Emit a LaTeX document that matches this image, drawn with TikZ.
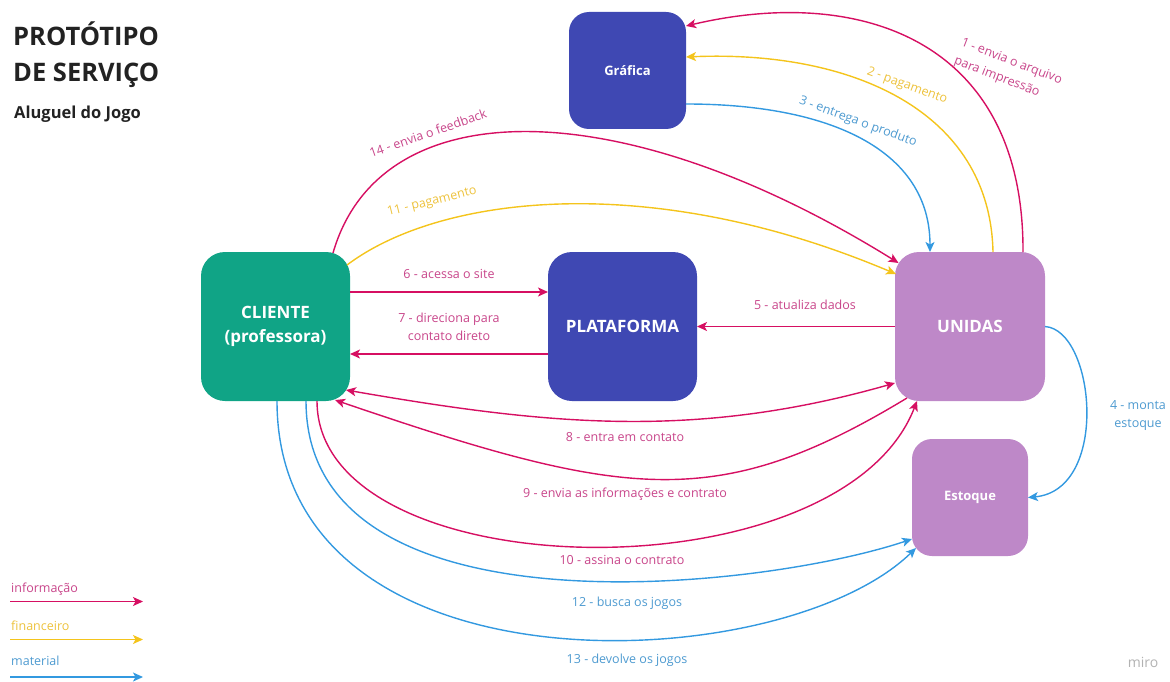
\documentclass[tikz,border=0pt]{standalone}
\usepackage{fontspec}
\setmainfont{Open Sans}
\usetikzlibrary{arrows.meta,calc}

% palette
\definecolor{info}{HTML}{D60F62}
\definecolor{infotxt}{HTML}{C8458A}
\definecolor{fin}{HTML}{F4C41C}
\definecolor{fintxt}{HTML}{EDC23C}
\definecolor{mat}{HTML}{3399E0}
\definecolor{mattxt}{HTML}{4D9AD0}
\definecolor{navy}{HTML}{3F48B3}
\definecolor{clientgreen}{HTML}{10A486}
\definecolor{lilac}{HTML}{BE88C8}
\definecolor{titlegray}{HTML}{222222}

\begin{document}
\begin{tikzpicture}[x=1pt,y=-1pt,
  actor/.style={rounded corners=24pt, inner sep=0pt, outer sep=0pt, text=white,
    align=center, minimum width=149pt, minimum height=149pt,
    font=\bfseries\fontsize{17}{24}\selectfont},
  smallactor/.style={actor, rounded corners=20pt, minimum width=117pt, minimum height=117pt,
    font=\bfseries\fontsize{13}{16}\selectfont},
  flow/.style={line width=1.4pt, -{Stealth[length=10pt,width=9pt,inset=2.5pt]}},
  twoway/.style={line width=1.4pt, {Stealth[length=10pt,width=9pt,inset=2.5pt]}-{Stealth[length=10pt,width=9pt,inset=2.5pt]}},
  lbl/.style={font=\fontsize{12.5}{18}\selectfont, inner sep=1pt, align=center},
  ilbl/.style={lbl, text=infotxt},
  flbl/.style={lbl, text=fintxt},
  mlbl/.style={lbl, text=mattxt},
  legendtxt/.style={font=\fontsize{12.5}{15}\selectfont, inner sep=0pt, anchor=base west}
]
\useasboundingbox (0,0) rectangle (1170,682);

% title
\node[anchor=base west, inner sep=0pt, text=titlegray, font=\bfseries\fontsize{25.5}{30}\selectfont] (t1) at (13,45.7) {PROTÓTIPO};
\node[anchor=base west, inner sep=0pt, text=titlegray, font=\bfseries\fontsize{25.5}{30}\selectfont] (t2) at (13,81.7) {DE SERVIÇO};
\node[anchor=base west, inner sep=0pt, text=titlegray, font=\bfseries\fontsize{16.5}{20}\selectfont] (t3) at (14,119) {Aluguel do Jogo};

% actors
\node[smallactor, fill=navy] (graf) at (627.5,70.5) {Gráfica};
\node[actor, fill=clientgreen] (cli) at (275.5,326.5) {CLIENTE\\(professora)};
\node[actor, fill=navy] (plat) at (622.5,326.5) {PLATAFORMA};
\node[actor, fill=lilac, minimum width=150pt] (uni) at (970,326.5) {UNIDAS};
\node[smallactor, fill=lilac, minimum width=116pt] (est) at (970,497.5) {Estoque};

% Unidas <-> Gráfica
\draw[flow, info] ($(uni)+(53,-74.5)$) .. controls (1024,40) and (860,-15) .. ($(graf)+(58.5,-44.5)$);
\draw[flow, fin] ($(uni)+(23,-74.5)$) .. controls (990,110) and (850,50) .. ($(graf)+(58.5,-13.5)$);
\draw[flow, mat] ($(graf)+(58.5,33.5)$) .. controls (830,104) and (930,150) .. ($(uni)+(-40,-74.5)$);

% Unidas -> Estoque
\draw[flow, mat] ($(uni)+(75,0)$) .. controls (1095,330) and (1110,490) .. ($(est)+(58,0)$);

% platform flows
\draw[flow, info] (uni.west) -- (plat.east);
\draw[flow, info] ($(cli)+(74.5,-34.5)$) -- ($(plat)+(-74.5,-34.5)$);
\draw[flow, info] ($(plat)+(-74.5,27.5)$) -- ($(cli)+(74.5,27.5)$);

% client <-> Unidas, lower arcs
\draw[twoway, info] ($(cli)+(70.5,63.5)$) .. controls (548,425) and (695,440) .. ($(uni)+(-75,56.5)$);
\draw[flow, info] ($(uni)+(-63,71.5)$) .. controls (717,513) and (625,499) .. ($(cli)+(59.5,73.5)$);
\draw[flow, info] ($(cli)+(41.5,74.5)$) .. controls (317,590) and (840,600) .. ($(uni)+(-53,74.5)$);

% client <-> Estoque
\draw[flow, mat] ($(cli)+(30.5,74.5)$) .. controls (306,640) and (760,590) .. ($(est)+(-58,41.5)$);
\draw[flow, mat] ($(cli)+(1.5,74.5)$) .. controls (277,700) and (780,680) .. ($(est)+(-54,50.5)$);

% client -> Unidas, upper arcs
\draw[flow, info] ($(cli)+(57.5,-73.5)$) .. controls (380,90) and (620,90) .. ($(uni)+(-71.5,-63.5)$);
\draw[flow, fin] ($(cli)+(71.5,-61.5)$) .. controls (440,195) and (650,170) .. ($(uni)+(-74,-52.5)$);

% labels
\node[ilbl, rotate=-21, align=left, font=\fontsize{12.5}{19.5}\selectfont] (l1) at (1008,71) {1 - envia o arquivo\\para impressão};
\node[flbl, rotate=-20] (l2) at (907,86) {2 - pagamento};
\node[mlbl, rotate=-20] (l3) at (858,122) {3 - entrega o produto};
\node[mlbl] (l4) at (1138,416) {4 - monta\\estoque};
\node[ilbl] (l5) at (805,305) {5 - atualiza dados};
\node[ilbl] (l6) at (449,274) {6 - acessa o site};
\node[ilbl] (l7) at (449,327) {7 - direciona para\\contato direto};
\node[ilbl] (l8) at (625,437) {8 - entra em contato};
\node[ilbl] (l9) at (625,494) {9 - envia as informações e contrato};
\node[ilbl] (l10) at (622,560) {10 - assina o contrato};
\node[flbl, rotate=14] (l11) at (432,202) {11 - pagamento};
\node[mlbl] (l12) at (627,603) {12 - busca os jogos};
\node[mlbl] (l13) at (627,660) {13 - devolve os jogos};
\node[ilbl, rotate=19] (l14) at (428,133) {14 - envia o feedback};

% legend
\node[legendtxt, text=infotxt] (leg1) at (11,592) {informação};
\node[legendtxt, text=fintxt] (leg2) at (11,630) {financeiro};
\node[legendtxt, text=mattxt] (leg3) at (11,665) {material};
\coordinate (i0) at (10,601.5);  \coordinate (i1) at (143,601.5);
\coordinate (f0) at (10,639.5);  \coordinate (f1) at (143,639.5);
\coordinate (m0) at (10,677);    \coordinate (m1) at (143,677);
\draw[flow, info] (i0) -- (i1);
\draw[flow, fin] (f0) -- (f1);
\draw[flow, mat] (m0) -- (m1);

% watermark
\node[inner sep=0pt, text=black!30, font=\fontsize{14}{16}\selectfont] (miro) at (1143,662) {miro};
\end{tikzpicture}
\end{document}
